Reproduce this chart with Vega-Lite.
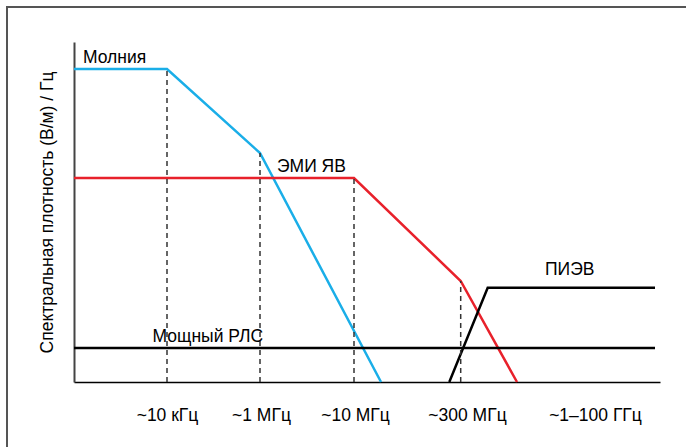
{
  "$schema": "https://vega.github.io/schema/vega-lite/v6.json",
  "width": 586,
  "height": 340,
  "autosize": {"type": "none"},
  "padding": {"left": 74, "top": 42, "right": 26, "bottom": 65},
  "background": "white",
  "config": {"view": {"stroke": null}, "font": "Liberation Sans"},
  "datasets": {
    "curves": [
      {"series": "Молния", "x": 0, "y": 313, "o": 1},
      {"series": "Молния", "x": 93, "y": 313, "o": 2},
      {"series": "Молния", "x": 186, "y": 229, "o": 3},
      {"series": "Молния", "x": 307, "y": 0, "o": 4},
      {"series": "ЭМИ ЯВ", "x": 0, "y": 204, "o": 1},
      {"series": "ЭМИ ЯВ", "x": 280, "y": 204, "o": 2},
      {"series": "ЭМИ ЯВ", "x": 386.7, "y": 101, "o": 3},
      {"series": "ЭМИ ЯВ", "x": 443, "y": 0, "o": 4},
      {"series": "ПИЭВ", "x": 375.3, "y": 0, "o": 1},
      {"series": "ПИЭВ", "x": 413.7, "y": 94.3, "o": 2},
      {"series": "ПИЭВ", "x": 581, "y": 94.3, "o": 3},
      {"series": "Мощный РЛС", "x": 0, "y": 34, "o": 1},
      {"series": "Мощный РЛС", "x": 581, "y": 34, "o": 2}
    ],
    "guides": [
      {"x": 93, "y0": 0, "y": 313},
      {"x": 186, "y0": 0, "y": 229},
      {"x": 280, "y0": 0, "y": 204},
      {"x": 386.7, "y0": 0, "y": 101}
    ],
    "labels": [
      {"text": "Молния", "x": 9, "y": 318.7},
      {"text": "ЭМИ ЯВ", "x": 203, "y": 210},
      {"text": "ПИЭВ", "x": 471, "y": 107},
      {"text": "Мощный РЛС", "x": 78.5, "y": 40.5}
    ],
    "frame": [{"x": -67, "x2": 620, "y": 375, "y2": -70}]
  },
  "layer": [
    {
      "data": {"name": "curves"},
      "mark": {"type": "line", "strokeWidth": 2.5},
      "encoding": {
        "x": {
          "field": "x", "type": "quantitative",
          "scale": {"domain": [0, 586], "nice": false, "zero": false},
          "axis": {
            "title": null,
            "values": [93, 187, 281, 393, 521],
            "labelExpr": "datum.value == 93 ? '~10 кГц' : datum.value == 187 ? '~1 МГц' : datum.value == 281 ? '~10 МГц' : datum.value == 393 ? '~300 МГц' : '~1–100 ГГц'",
            "ticks": false, "grid": false,
            "domainColor": "#000000", "domainWidth": 1.5,
            "labelFontSize": 17.5, "labelColor": "#000000",
            "labelPadding": 24, "labelFlush": false, "labelOverlap": false
          }
        },
        "y": {
          "field": "y", "type": "quantitative",
          "scale": {"domain": [0, 340], "nice": false, "zero": false},
          "axis": {
            "title": "Спектральная плотность (В/м) / Гц",
            "labels": false, "ticks": false, "grid": false,
            "domainColor": "#444444", "domainWidth": 2,
            "titleFontSize": 17.5, "titleFontWeight": "normal", "titleColor": "#000000",
            "titlePadding": 18
          }
        },
        "color": {
          "field": "series", "type": "nominal", "legend": null,
          "scale": {"domain": ["Молния", "ЭМИ ЯВ", "ПИЭВ", "Мощный РЛС"], "range": ["#1aaee8", "#e8212b", "#000000", "#000000"]}
        },
        "order": {"field": "o", "type": "quantitative"}
      }
    },
    {
      "data": {"name": "guides"},
      "mark": {"type": "rule", "color": "#333333", "strokeWidth": 1.5, "strokeDash": [5, 4]},
      "encoding": {
        "x": {"field": "x", "type": "quantitative"},
        "y": {"field": "y0", "type": "quantitative"},
        "y2": {"field": "y"}
      }
    },
    {
      "data": {"name": "labels"},
      "mark": {"type": "text", "align": "left", "baseline": "alphabetic", "fontSize": 17.5, "color": "#000000"},
      "encoding": {
        "x": {"field": "x", "type": "quantitative"},
        "y": {"field": "y", "type": "quantitative"},
        "text": {"field": "text", "type": "nominal"}
      }
    },
    {
      "data": {"name": "frame"},
      "mark": {"type": "rect", "fill": "transparent", "stroke": "#555555", "strokeWidth": 2, "clip": false},
      "encoding": {
        "x": {"field": "x", "type": "quantitative"},
        "x2": {"field": "x2"},
        "y": {"field": "y", "type": "quantitative"},
        "y2": {"field": "y2"}
      }
    }
  ]
}
